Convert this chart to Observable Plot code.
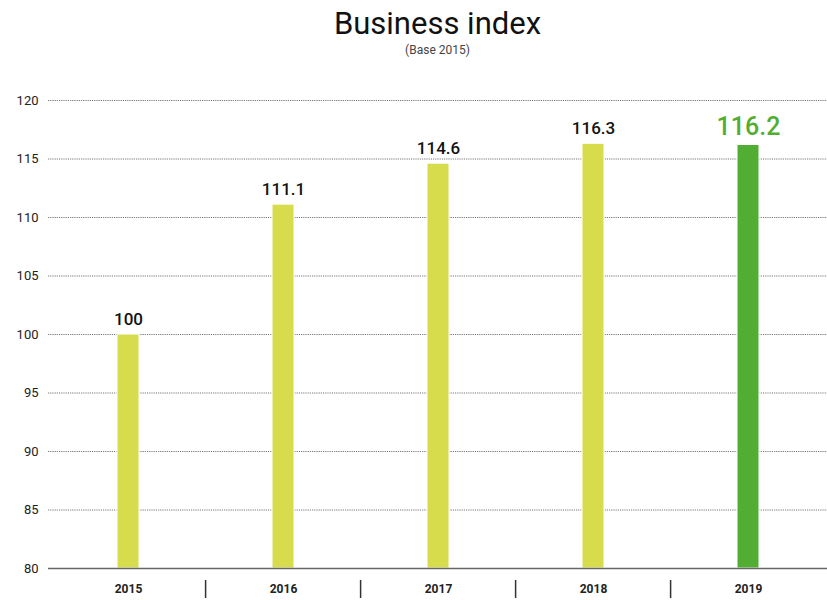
<!DOCTYPE html>
<html>
<head>
<meta charset="utf-8">
<script src="https://cdn.jsdelivr.net/npm/d3@7"></script>
<script src="https://cdn.jsdelivr.net/npm/@observablehq/plot@0.6"></script>
<style>
  body { margin: 0; background: #fff; font-family: Roboto, "Noto Sans", sans-serif; }
  #head { width: 827px; height: 62px; position: relative; }
  #title { position: absolute; left: 48px; right: 0; top: 6px; text-align: center; font-size: 31px; line-height: 36px; color: #111; }
  #subtitle { position: absolute; left: 48px; right: 0; top: 43px; text-align: center; font-size: 12px; line-height: 14px; color: #444; }
  svg { display: block; }
</style>
</head>
<body>
<div id="head">
  <div id="title">Business index</div>
  <div id="subtitle">(Base 2015)</div>
</div>
<div id="chart"></div>
<script>
const years = ["2015", "2016", "2017", "2018", "2019"];
const values = [100, 111.1, 114.6, 116.3, 116.2];
const labels = ["100", "111.1", "114.6", "116.3", "116.2"];
const highlightYear = "2019";
const yTicks = [80, 85, 90, 95, 100, 105, 110, 115, 120];

const data = years.map((y, i) => ({year: y, value: values[i], label: labels[i], hi: y === highlightYear}));
const normal = data.filter(d => !d.hi);
const hi = data.filter(d => d.hi);

const W = 827, H = 538, mL = 48, mR = 0, mT = 38, mB = 32;
const step = (W - mL - mR) / years.length;
const plotH = H - mT - mB;

const chart = Plot.plot({
  width: W,
  height: H,
  marginLeft: mL,
  marginRight: mR,
  marginTop: mT,
  marginBottom: mB,
  style: {fontFamily: "Roboto, 'Noto Sans', sans-serif", background: "#fff"},
  x: {domain: years, paddingInner: 0.86, paddingOuter: 0.43, label: null},
  y: {domain: [80, 120], label: null},
  marks: [
    Plot.ruleY(yTicks.filter(t => t > 80), {stroke: "#777", strokeWidth: 1, strokeDasharray: "1.2,1"}),
    Plot.barY(data, {x: "year", y1: 80, y2: "value", fill: d => d.hi ? "#52ae32" : "#d6dc4c", stroke: "#fff", strokeWidth: 1}),
    Plot.ruleY([80], {stroke: "#666", strokeWidth: 1.6}),
    Plot.text(normal, {x: "year", y: "value", text: "label", dy: -15, fontSize: 17, fontWeight: 500, fill: "#111"}),
    Plot.text(hi, {x: "year", y: "value", text: "label", dy: -18, fontSize: 25, fontWeight: 500, fill: "#52ae32"}),
    Plot.ruleX(years.slice(1), {x: d => d, dx: -step / 2, stroke: "#333", strokeWidth: 1.5, insetTop: plotH + 12, insetBottom: -30}),
    Plot.axisY({ticks: yTicks, tickSize: 0, tickPadding: 10, fontSize: 13, fill: "#222", label: null}),
    Plot.axisX({tickSize: 0, tickPadding: 16, fontSize: 12, fontWeight: "bold", fill: "#222", label: null})
  ]
});
document.getElementById("chart").appendChild(chart);
</script>
</body>
</html>
